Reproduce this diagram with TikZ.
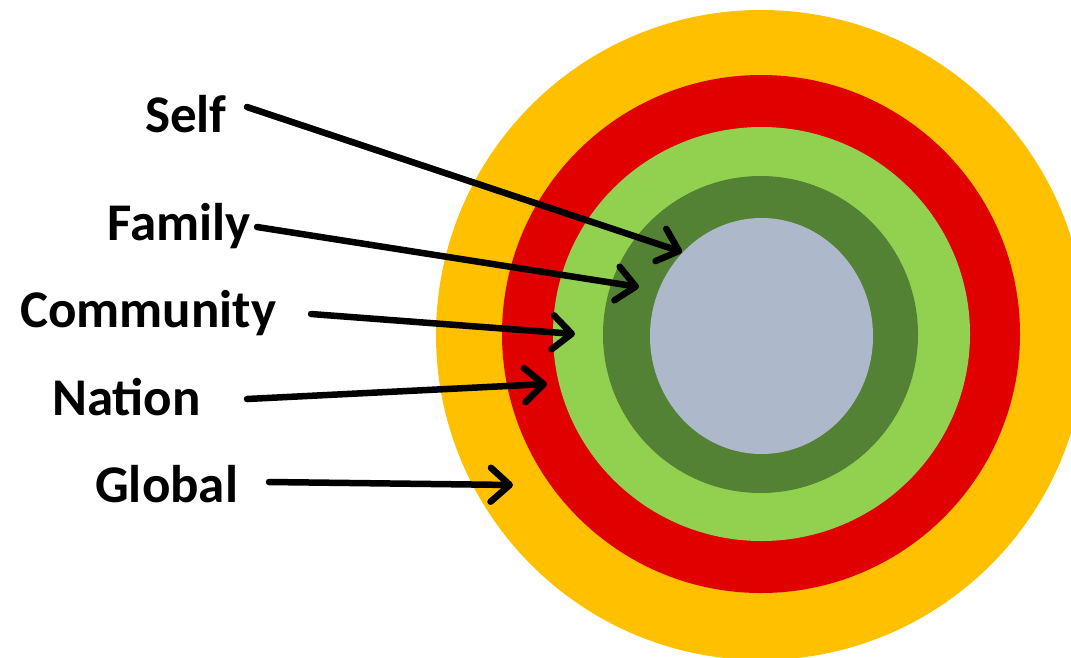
\documentclass[tikz,border=0pt]{standalone}
\usepackage{fontspec}
\setmainfont{Carlito}
\usetikzlibrary{arrows.meta}
\definecolor{cyellow}{HTML}{FFC000}
\definecolor{cred}{HTML}{E00000}
\definecolor{clgreen}{HTML}{92D050}
\definecolor{cdgreen}{HTML}{548235}
\definecolor{cgrey}{HTML}{ADB9CA}
\tikzset{
  lbl/.style={anchor=base west, inner sep=0pt, font=\fontsize{53}{53}\selectfont\bfseries},
  pointer/.style={line width=6.5pt, line cap=round, -{Straight Barb[length=19pt,width=34pt,round]}}
}
\begin{document}
\begin{tikzpicture}[x=1pt,y=-1pt]
\useasboundingbox (0,0) rectangle (1071,657);
\clip (0,0) rectangle (1071,657);
\fill[cyellow] (761,335) ellipse [x radius=325, y radius=325];
\fill[cred] (761,334) ellipse [x radius=259, y radius=259];
\fill[clgreen] (761.5,334) ellipse [x radius=208.5, y radius=207];
\fill[cdgreen] (760.5,334.5) ellipse [x radius=157.5, y radius=158.5];
\fill[cgrey] (761.5,336) ellipse [x radius=111.5, y radius=118];
\node[lbl] (self) at (145,132) {Self};
\node[lbl] (family) at (107,240) {Family};
\node[lbl] (community) at (20,327) {Community};
\node[lbl] (nation) at (52,415) {Nation};
\node[lbl] (global) at (95,502) {Global};
\coordinate (s0) at (247,107);
\coordinate (s1) at (682,252);
\coordinate (f0) at (257,227);
\coordinate (f1) at (639,287);
\coordinate (c0) at (311,314);
\coordinate (c1) at (575,334);
\coordinate (n0) at (247,399);
\coordinate (n1) at (547,384);
\coordinate (g0) at (269,482);
\coordinate (g1) at (513,485);
\draw[pointer] (s0) -- (s1);
\draw[pointer] (f0) -- (f1);
\draw[pointer] (c0) -- (c1);
\draw[pointer] (n0) -- (n1);
\draw[pointer] (g0) -- (g1);
\end{tikzpicture}
\end{document}
